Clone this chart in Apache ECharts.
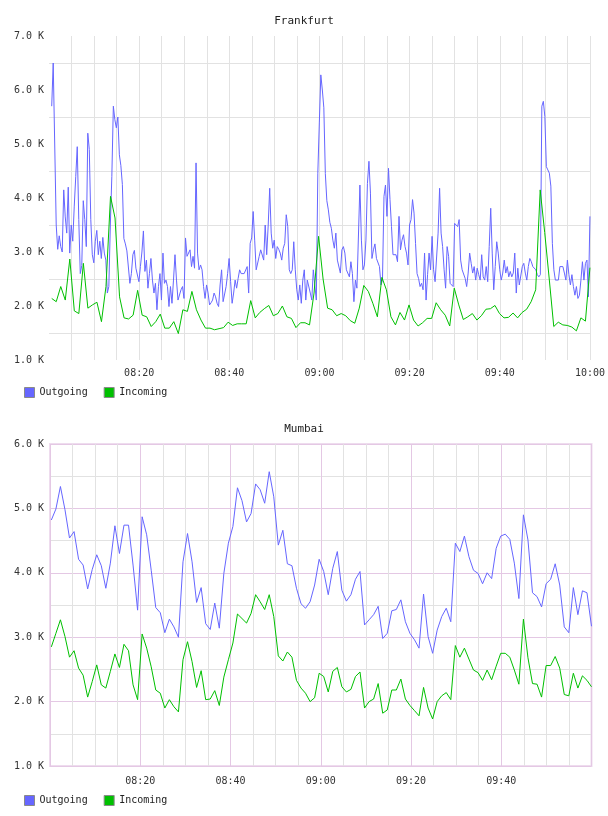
<!DOCTYPE html>
<html>
<head>
<meta charset="utf-8">
<title>Frankfurt / Mumbai</title>
<script src="https://cdn.jsdelivr.net/npm/echarts@6.0.0/dist/echarts.min.js"></script>
<style>
  html, body { margin: 0; padding: 0; background: #fff; }
  #main { width: 608px; height: 816px; }
</style>
</head>
<body>
<div id="main"></div>
<script>
// x = minutes after 08:00, y = thousands
const xTickMinutes = [20, 40, 60, 80, 100, 120];
const xTickLabels = ['08:20', '08:40', '09:00', '09:20', '09:40', '10:00'];

// Frankfurt outgoing, one sample every ~20 s from 08:00:36 to 10:00
const frankfurtOutSpan = [0.6, 120];
const frankfurtOut = [
  5.7, 6.5, 5.0, 3.5, 3.05, 3.3, 3.1, 3.0, 4.15, 3.65,
  3.35, 4.2, 2.98, 3.5, 3.2, 3.85, 4.4, 4.95, 3.6, 2.6,
  2.75, 3.95, 3.6, 3.1, 5.2, 4.9, 3.6, 2.95, 2.8, 3.2,
  3.4, 2.95, 3.2, 2.88, 3.27, 2.98, 2.85, 2.24, 2.36, 3.5,
  4.4, 5.7, 5.45, 5.3, 5.5, 4.8, 4.6, 4.25, 3.25, 3.15,
  3.02, 3.0, 2.42, 2.6, 2.95, 3.03, 2.7, 2.67, 2.45, 2.73,
  3.0, 3.39, 2.64, 2.85, 2.33, 2.6, 2.88, 2.48, 2.24, 2.42,
  1.93, 2.36, 2.6, 2.11, 2.98, 2.42, 2.48, 2.36, 1.99, 2.36,
  2.05, 2.48, 2.95, 2.48, 2.11, 2.11, 2.3, 2.36, 2.14,
  3.26, 2.92, 2.92, 3.04, 2.73, 2.92, 2.7, 4.65, 2.98, 2.67,
  2.76, 2.67, 2.36, 2.14, 2.39, 2.24, 2.02, 2.06, 2.11, 2.24,
  2.17, 2.05, 1.99, 2.39, 2.67, 2.08, 2.08, 2.36, 2.6, 2.88,
  2.45, 2.05, 2.24, 2.48, 2.33, 2.51, 2.67, 2.6, 2.58, 2.6,
  2.58, 2.73, 2.24, 3.16, 3.26, 3.75, 3.22, 2.67, 2.67, 2.92,
  3.04, 3.07, 2.85, 3.5, 2.95, 3.5, 4.18, 3.35, 3.07, 3.22,
  2.88, 3.1, 3.05, 2.98, 2.85, 3.07, 3.16, 3.69, 3.47, 2.67,
  2.6, 2.67, 3.19, 2.67, 2.3, 2.11, 2.39, 2.05, 2.48, 2.67,
  2.11, 2.48, 2.45, 2.24, 2.11, 2.67, 2.7, 2.11, 4.46, 5.39,
  6.28, 6.0,
  5.67, 4.45, 3.95, 3.78, 3.55, 3.44, 3.22, 3.07, 3.35, 2.85,
  2.88, 2.61, 3.04, 3.1, 2.98, 2.67, 2.64, 2.54, 2.82, 2.6,
  2.08, 2.48, 2.33, 2.3, 4.24, 3.22, 2.67, 2.76, 3.22, 4.27,
  4.68, 4.09, 2.88, 3.04, 3.15, 2.88, 2.85, 2.73, 2.39, 2.48,
  4.03, 4.24, 3.66, 4.55, 3.97, 3.47, 2.95, 2.98, 2.95, 2.82,
  3.66, 3.04, 3.22, 3.32, 3.1, 2.98, 2.76, 3.5, 3.6, 3.97,
  3.72, 3.16, 2.6, 2.51, 2.36, 2.42, 2.3, 2.98, 2.11, 2.58,
  2.98, 2.67, 3.29, 2.67, 2.45, 2.48, 3.35, 4.18, 3.35, 3.1,
  2.67, 2.33, 3.1, 2.92, 2.42, 2.39, 2.36, 3.53,
  3.56, 3.47, 3.6, 2.85, 2.67, 2.64, 2.51, 2.36, 2.61, 2.98,
  2.79, 2.61, 2.73, 2.48, 2.7, 2.58, 2.48, 2.95, 2.54, 2.48,
  2.73, 2.45, 3.1, 3.81, 2.98, 2.3, 2.73, 3.19, 2.98, 2.67,
  2.48, 2.61, 2.85, 2.61, 2.73, 2.54, 2.64, 2.54, 2.61, 2.98,
  2.24, 2.7, 2.39, 2.39, 2.73, 2.79, 2.61, 2.48, 2.73, 2.88,
  2.82, 2.73, 2.76, 2.67, 2.58, 2.54, 2.58, 5.7, 5.79, 5.51,
  4.58, 4.52, 4.46, 4.22, 3.16, 2.67, 2.48, 2.45, 2.48, 2.73,
  2.76, 2.73, 2.61, 2.48, 2.85, 2.58, 2.39, 2.58, 2.36, 2.2,
  2.36, 2.14, 2.2, 2.48, 2.82, 2.48, 2.79, 2.85, 2.17, 3.66
];

// Frankfurt incoming, about one sample a minute
const frankfurtInSpan = [0.6, 120];
const frankfurtIn = [
  2.14, 2.08, 2.36, 2.11, 2.87, 1.91, 1.86, 2.79, 1.96, 2.02,
  2.07, 1.71, 2.36, 4.03, 3.63, 2.17, 1.78, 1.76, 1.83, 2.29,
  1.83, 1.8, 1.62, 1.71, 1.85, 1.59, 1.59, 1.71, 1.49, 1.93,
  1.9, 2.27, 1.93, 1.74, 1.59, 1.59, 1.56, 1.58, 1.6, 1.7,
  1.64, 1.67, 1.67, 1.67, 2.1, 1.78, 1.88, 1.95, 2.01, 1.82,
  1.86, 2.0, 1.8, 1.77, 1.6, 1.69, 1.69, 1.65, 2.24, 3.29,
  2.5, 1.96, 1.93, 1.82, 1.86, 1.82, 1.73, 1.68, 1.96, 2.38,
  2.27, 2.05, 1.8, 2.53, 2.3, 1.8, 1.65, 1.88, 1.74, 2.02,
  1.74, 1.63, 1.69, 1.77, 1.77, 2.06, 1.93, 1.83, 1.63, 2.33,
  2.02, 1.75, 1.8, 1.86, 1.74, 1.82, 1.94, 1.95, 2.01, 1.86,
  1.78, 1.79, 1.87, 1.78, 1.88, 1.94, 2.08, 2.3, 4.15, 3.36,
  2.5, 1.62, 1.7, 1.65, 1.64, 1.61, 1.54, 1.78, 1.72, 2.71
];

// Mumbai, one sample a minute
const mumbaiSpan = [0.3, 120];
const mumbaiOut = [
  4.82, 4.99, 5.34, 4.98, 4.54, 4.64, 4.21, 4.12, 3.75, 4.05,
  4.28, 4.11, 3.76, 4.15, 4.73, 4.3, 4.74, 4.74, 4.12, 3.42,
  4.87, 4.59, 4.04, 3.46, 3.38, 3.07, 3.28, 3.16, 3.0, 4.17,
  4.61, 4.17, 3.54, 3.77, 3.21, 3.12, 3.53, 3.14, 3.99, 4.46,
  4.72, 5.32, 5.12, 4.79, 4.92, 5.38, 5.29, 5.08, 5.57, 5.18,
  4.43, 4.66, 4.14, 4.11, 3.76, 3.52, 3.45, 3.55, 3.81, 4.21,
  4.02, 3.66, 4.07, 4.33, 3.73, 3.56, 3.66, 3.9, 4.02, 3.19,
  3.27, 3.35, 3.48, 2.98, 3.06, 3.41, 3.43, 3.58, 3.24, 3.06,
  2.96, 2.83, 3.67, 3.01, 2.75, 3.11, 3.32, 3.45, 3.24, 4.46,
  4.33, 4.57, 4.25, 4.04, 3.99, 3.83, 4.0, 3.91, 4.38, 4.57,
  4.6, 4.52, 4.15, 3.6, 4.9, 4.51, 3.69, 3.63, 3.47, 3.83,
  3.9, 4.14, 3.81, 3.16, 3.07, 3.77, 3.35, 3.72, 3.69, 3.17
];
const mumbaiIn = [
  2.85, 3.06, 3.27, 3.01, 2.69, 2.79, 2.52, 2.41, 2.07, 2.31,
  2.57, 2.26, 2.21, 2.47, 2.74, 2.53, 2.89, 2.79, 2.26, 2.03,
  3.05, 2.83, 2.54, 2.18, 2.13, 1.9, 2.03, 1.92, 1.84, 2.65,
  2.93, 2.62, 2.22, 2.48, 2.03, 2.04, 2.17, 1.94, 2.38, 2.65,
  2.91, 3.36, 3.29, 3.22, 3.37, 3.66, 3.55, 3.43, 3.66, 3.32,
  2.71, 2.63, 2.77, 2.69, 2.33, 2.21, 2.13, 2.0, 2.06, 2.44,
  2.39, 2.15, 2.47, 2.53, 2.23, 2.15, 2.19, 2.39, 2.46, 1.9,
  2.0, 2.04, 2.28, 1.82, 1.87, 2.18, 2.18, 2.35, 2.04, 1.94,
  1.86, 1.78, 2.22, 1.9, 1.73, 2.0, 2.09, 2.14, 2.03, 2.87,
  2.69, 2.83, 2.66, 2.49, 2.45, 2.33, 2.49, 2.34, 2.55, 2.75,
  2.75, 2.69, 2.49, 2.27, 3.28, 2.68, 2.28, 2.27, 2.07, 2.56,
  2.56, 2.7, 2.52, 2.11, 2.09, 2.44, 2.21, 2.4, 2.33, 2.23
];

const OUT_COLOR = '#6666ff';
const IN_COLOR = '#00c000';
const MONO = 'DejaVu Sans Mono';

function toPairs(values, span) {
  const step = (span[1] - span[0]) / (values.length - 1);
  return values.map((v, i) => [span[0] + i * step, v]);
}

function timeLabel(lastMinute) {
  return v => {
    const k = xTickMinutes.indexOf(v);
    return k >= 0 && v <= lastMinute ? xTickLabels[k] : '';
  };
}

const kLabel = v => (Math.abs(v - Math.round(v)) < 1e-6 ? v.toFixed(1) + ' K' : '');

const labelStyle = { fontFamily: MONO, fontSize: 10, color: '#333' };
const gray = '#e2e2e2';
const lilac = '#e4c8e4';

function lineSeries(name, color, data, idx) {
  return {
    name: name,
    type: 'line',
    xAxisIndex: idx,
    yAxisIndex: idx,
    data: data,
    showSymbol: false,
    symbol: 'none',
    lineStyle: { color: color, width: 1 },
    itemStyle: { color: color },
    emphasis: { disabled: true }
  };
}

function legendAt(top) {
  return {
    data: ['Outgoing', 'Incoming'], left: 24, top: top, padding: 0, icon: 'rect',
    itemWidth: 10, itemHeight: 10, itemGap: 16, selectedMode: false,
    itemStyle: { borderColor: '#8a8a8a', borderWidth: 1 },
    textStyle: { fontFamily: MONO, fontSize: 10, color: '#222' }
  };
}

const titleStyle = { fontFamily: MONO, fontSize: 11, fontWeight: 'normal', color: '#222' };

const chart = echarts.init(document.getElementById('main'), null, { renderer: 'canvas' });

chart.setOption({
  animation: false,
  backgroundColor: '#fff',
  title: [
    { text: 'Frankfurt', left: 'center', top: 11, textStyle: titleStyle },
    { text: 'Mumbai', left: 'center', top: 419, textStyle: titleStyle }
  ],
  legend: [legendAt(387), legendAt(795)],
  grid: [
    { left: 49, top: 36, width: 543, height: 324, show: false },
    { left: 50, top: 444, width: 541.5, height: 322, show: true,
      borderColor: '#eedcee', borderWidth: 2, backgroundColor: 'transparent' }
  ],
  xAxis: [
    { type: 'value', gridIndex: 0, min: 0, max: 120, interval: 5,
      axisLine: { show: false }, axisTick: { show: false },
      axisLabel: Object.assign({ margin: 8, formatter: timeLabel(120) }, labelStyle),
      splitLine: { show: true, showMinLine: false, lineStyle: { color: gray, width: 1 } } },
    { type: 'value', gridIndex: 1, min: 0, max: 120, interval: 5,
      axisLine: { show: false }, axisTick: { show: false },
      axisLabel: Object.assign({ margin: 10, formatter: timeLabel(100) }, labelStyle),
      splitLine: { show: true, lineStyle: { color: [lilac, gray, gray, gray], width: 1 } } }
  ],
  yAxis: [
    { type: 'value', gridIndex: 0, min: 1, max: 7, interval: 0.5,
      axisLine: { show: false }, axisTick: { show: false },
      axisLabel: Object.assign({ margin: 5, formatter: kLabel }, labelStyle),
      splitLine: { show: true, lineStyle: { color: ['rgba(0,0,0,0)', gray], width: 1 } } },
    { type: 'value', gridIndex: 1, min: 1, max: 6, interval: 0.5,
      axisLine: { show: false }, axisTick: { show: false },
      axisLabel: Object.assign({ margin: 6, formatter: kLabel }, labelStyle),
      splitLine: { show: true, lineStyle: { color: [lilac, gray], width: 1 } } }
  ],
  series: [
    lineSeries('Outgoing', OUT_COLOR, toPairs(frankfurtOut, frankfurtOutSpan), 0),
    lineSeries('Incoming', IN_COLOR, toPairs(frankfurtIn, frankfurtInSpan), 0),
    lineSeries('Outgoing', OUT_COLOR, toPairs(mumbaiOut, mumbaiSpan), 1),
    lineSeries('Incoming', IN_COLOR, toPairs(mumbaiIn, mumbaiSpan), 1)
  ]
});
</script>
</body>
</html>
